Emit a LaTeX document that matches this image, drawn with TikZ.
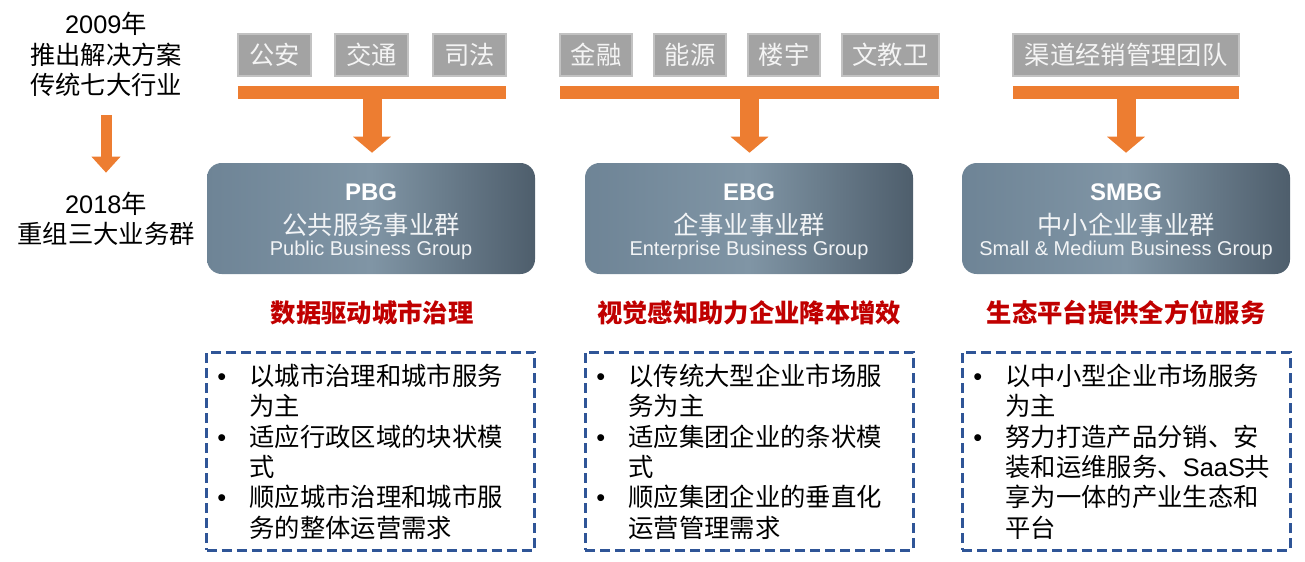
\documentclass[tikz,border=0pt]{standalone}
\usepackage{fontspec}
\setmainfont{Liberation Sans}
\newfontfamily\cjk{Noto Sans CJK SC}
\newfontfamily\latf{Liberation Sans}
\usetikzlibrary{arrows.meta}

\definecolor{tagfill}{HTML}{A3A3A3}
\definecolor{tagedge}{HTML}{C2C2C2}
\definecolor{tagtext}{HTML}{F4F4F4}
\definecolor{flow}{HTML}{ED7D31}
\definecolor{grpL}{HTML}{6E8496}
\definecolor{grpM}{HTML}{8095A5}
\definecolor{grpR}{HTML}{4E5E6C}
\definecolor{grptext}{HTML}{F2F4F6}
\definecolor{slogan}{HTML}{C00000}
\definecolor{frame}{HTML}{2F5597}

\tikzset{
  side/.style={inner sep=0pt, align=center, text=black,
    font=\cjk\fontsize{19}{22.9}\selectfont},
  tag/.style={fill=tagfill, draw=tagedge, line width=0.8pt,
    minimum height=31.5pt, inner sep=0pt, text=tagtext,
    font=\cjk\fontsize{19}{22}\selectfont},
  bar/.style={fill=flow, minimum height=9.75pt, inner sep=0pt},
  down/.style={draw=flow, line width=14.25pt,
    -{Triangle[width=27.75pt,length=12pt]}, shorten >=7.5pt},
  timearrow/.style={draw=flow, line width=8.25pt,
    -{Triangle[width=21pt,length=12pt]}},
  group/.style={rounded corners=11pt, minimum width=246pt,
    minimum height=83.25pt, inner sep=0pt,
    left color=grpL, right color=grpR, middle color=grpM},
  gname/.style={inner sep=0pt, text=white,
    font=\latf\bfseries\fontsize{18}{20}\selectfont},
  gcn/.style={inner sep=0pt, text=grptext,
    font=\cjk\fontsize{19}{22}\selectfont},
  gen/.style={inner sep=0pt, text=grptext,
    font=\latf\fontsize{15}{18}\selectfont},
  motto/.style={inner sep=0pt, text=slogan,
    font=\cjk\bfseries\fontsize{19}{22}\selectfont},
  listframe/.style={draw=frame, line width=2.25pt,
    dash pattern=on 7.5pt off 3.75pt, minimum width=246pt,
    minimum height=148.5pt, inner sep=0pt},
  listtext/.style={anchor=north west, inner sep=0pt, text=black,
    font=\cjk\fontsize{19}{22.5}\selectfont},
}

\newcommand{\bul}{{\latf\textbullet}}
\newenvironment{points}{\begin{tabular}{@{}l@{\hspace{17.6pt}}l@{}}}{\end{tabular}}

\begin{document}
\begin{tikzpicture}[x=0.75pt,y=-0.75pt]
\useasboundingbox (0,0) rectangle (1305,561);

% timeline on the left
\node[side] (t2009) at (106,54.5) {{\latf 2009}年\\推出解决方案\\传统七大行业};
\node[side, font=\cjk\fontsize{19}{22.5}\selectfont] (t2018) at (106,219) {{\latf 2018}年\\重组三大业务群};
\draw[timearrow, shorten <=13.5pt, shorten >=14.5pt] (t2009.south) -- (t2018.north);

% industry tags
\node[tag, minimum width=54.75pt] (gongan) at (274.5,55) {公安};
\node[tag, minimum width=54.75pt] (jiaotong) at (371.5,55) {交通};
\node[tag, minimum width=54.75pt] (sifa) at (469.5,55) {司法};

\node[tag, minimum width=54pt] (jinrong) at (596,55) {金融};
\node[tag, minimum width=54pt] (nengyuan) at (690,55) {能源};
\node[tag, minimum width=54pt] (louyu) at (784,55) {楼宇};
\node[tag, minimum width=72.75pt] (wenjiaowei) at (890.5,55) {文教卫};

\node[tag, minimum width=169.5pt] (qudao) at (1126,55) {渠道经销管理团队};

% orange collector bars
\node[bar, minimum width=201pt] (barP) at (372,92.5) {};
\node[bar, minimum width=284.25pt] (barE) at (749.5,92.5) {};
\node[bar, minimum width=169.5pt] (barS) at (1126,92.5) {};

% business groups
\node[group] (pbg) at (371,218.5) {};
\node[group] (ebg) at (749,218.5) {};
\node[group] (smbg) at (1126,218.5) {};

\draw[down] (barP.south) -- (barP.south |- pbg.north);
\draw[down] (barE.south) -- (barE.south |- ebg.north);
\draw[down] (barS.south) -- (barS.south |- smbg.north);

\node[gname] (pbgA) at (371,192) {PBG};
\node[gcn] (pbgB) at (371,225) {公共服务事业群};
\node[gen] (pbgC) at (371,250) {Public Business Group};

\node[gname] (ebgA) at (749,192) {EBG};
\node[gcn] (ebgB) at (749,225) {企事业事业群};
\node[gen] (ebgC) at (749,250) {Enterprise Business Group};

\node[gname] (smbgA) at (1126,192) {SMBG};
\node[gcn] (smbgB) at (1126,225) {中小企业事业群};
\node[gen] (smbgC) at (1126,250) {Small \& Medium Business Group};

% slogans
\node[motto] (pbgM) at (372,313) {数据驱动城市治理};
\node[motto] (ebgM) at (749,313) {视觉感知助力企业降本增效};
\node[motto] (smbgM) at (1126,313) {生态平台提供全方位服务};

% dashed lists
\node[listframe] (pbgL) at (370.5,451) {};
\node[listframe] (ebgL) at (749,451) {};
\node[listframe] (smbgL) at (1126,451) {};

\node[listtext] (pbgT) at (217,363.6) {\begin{points}
\bul & 以城市治理和城市服务\\
     & 为主\\
\bul & 适应行政区域的块状模\\
     & 式\\
\bul & 顺应城市治理和城市服\\
     & 务的整体运营需求
\end{points}};

\node[listtext] (ebgT) at (596,363.6) {\begin{points}
\bul & 以传统大型企业市场服\\
     & 务为主\\
\bul & 适应集团企业的条状模\\
     & 式\\
\bul & 顺应集团企业的垂直化\\
     & 运营管理需求
\end{points}};

\node[listtext] (smbgT) at (973,363.6) {\begin{points}
\bul & 以中小型企业市场服务\\
     & 为主\\
\bul & 努力打造产品分销、安\\
     & 装和运维服务、{\latf SaaS}共\\
     & 享为一体的产业生态和\\
     & 平台
\end{points}};

\end{tikzpicture}
\end{document}
